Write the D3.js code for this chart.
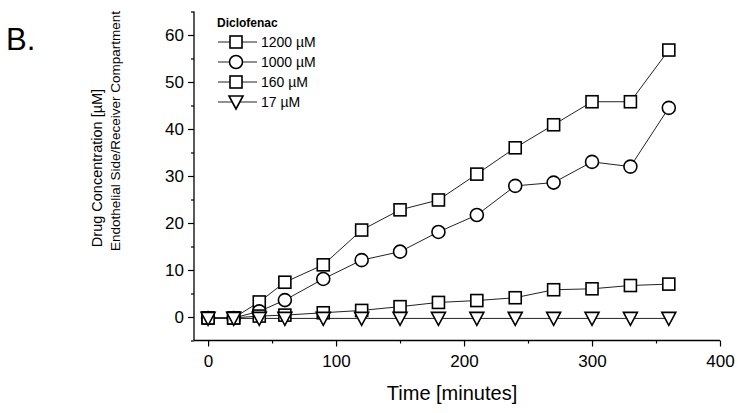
<!DOCTYPE html>
<html><head><meta charset="utf-8">
<script src="https://cdn.jsdelivr.net/npm/d3@7"></script>
<style>body{margin:0;background:#fff}svg{display:block}text{font-family:"Liberation Sans",Arial,sans-serif;fill:#000}</style>
</head><body><svg id="c" width="739" height="413"></svg>
<script>
const time = [0,20,40,60,90,120,150,180,210,240,270,300,330,360];
const c1200 = [-0.2,-0.2,3.2,7.4,11.1,18.5,22.8,24.9,30.4,36.0,40.9,45.8,45.8,56.8];
const c1000 = [-0.2,-0.2,1.2,3.6,8.1,12.1,13.9,18.1,21.7,27.9,28.6,33.0,32.0,44.5];
const c160 = [-0.2,-0.2,0.2,0.4,0.9,1.4,2.2,3.1,3.5,4.1,5.8,6.0,6.7,7.0];
const c17 = [-0.3,-0.3,-0.3,-0.3,-0.3,-0.3,-0.3,-0.3,-0.3,-0.3,-0.3,-0.3,-0.3,-0.3];
const seriesNames = ["1200 µM","1000 µM","160 µM","17 µM"];
const seriesShapes = ["square","circle","square","triangle"];
const xTicks = [0,100,200,300,400];
const yTicks = [0,10,20,30,40,50,60];
const legendTitle = "Diclofenac";

const series = [c1200,c1000,c160,c17].map((v,i)=>({name:seriesNames[i],shape:seriesShapes[i],pts:time.map((t,j)=>[t,v[j]])}));

const svg = d3.select("#c");
const x = d3.scaleLinear().domain([-11,400]).range([194,720]);
const y = d3.scaleLinear().domain([-5,65]).range([340.5,11.5]);

// axes
const xAxis = d3.axisBottom(x).tickValues(xTicks).tickSize(6).tickPadding(8).tickFormat(d3.format("d"));
const gx = svg.append("g").attr("transform",`translate(0,${y(-5)})`).call(xAxis);
gx.select(".domain").attr("d",`M${x(-11)},0H${x(400)}`);
gx.selectAll("text").style("font-size","17px");
const gxm = svg.append("g").attr("transform",`translate(0,${y(-5)})`).call(d3.axisBottom(x).tickValues([50,150,250,350]).tickSize(3).tickFormat(""));
gxm.select(".domain").remove();

const yAxis = d3.axisLeft(y).tickValues(yTicks).tickSize(6).tickPadding(4).tickFormat(d3.format("d"));
const gy = svg.append("g").attr("transform",`translate(${x(-11)},0)`).call(yAxis);
gy.select(".domain").attr("d",`M0,${y(65)}V${y(-5)}`);
gy.selectAll("text").style("font-size","17px");
const gym = svg.append("g").attr("transform",`translate(${x(-11)},0)`).call(d3.axisLeft(y).tickValues([-5,5,15,25,35,45,55,65]).tickSize(3).tickFormat(""));
gym.select(".domain").remove();
svg.selectAll(".domain").attr("stroke-width",1.3);
svg.selectAll(".tick line").attr("stroke-width",1.2);

// lines
const line = d3.line().x(d=>x(d[0])).y(d=>y(d[1]));
svg.append("g").selectAll("path").data(series).join("path")
  .attr("d",d=>line(d.pts)).attr("fill","none").attr("stroke","#222").attr("stroke-width",1);

function drawMarker(g, shape, cx, cy){
  if(shape==="square") g.append("rect").attr("x",cx-6).attr("y",cy-6).attr("width",12).attr("height",12);
  else if(shape==="circle") g.append("circle").attr("cx",cx).attr("cy",cy).attr("r",6.5);
  else g.append("path").attr("d",`M${cx-7},${cy-6}L${cx+7},${cy-6}L${cx},${cy+7}Z`);
}
const mg = svg.append("g").attr("fill","#fff").attr("stroke","#000").attr("stroke-width",1.6);
series.forEach(s=>s.pts.forEach(p=>drawMarker(mg,s.shape,x(p[0]),y(p[1]))));

// legend
const lg = svg.append("g");
lg.append("text").attr("x",217).attr("y",27).style("font-size","12px").style("font-weight","bold").text(legendTitle);
series.forEach((s,i)=>{
  const cy = 42+i*20;
  lg.append("line").attr("x1",218).attr("x2",257).attr("y1",cy).attr("y2",cy).attr("stroke","#222").attr("stroke-width",1);
  const g = lg.append("g").attr("fill","#fff").attr("stroke","#000").attr("stroke-width",1.6);
  drawMarker(g,s.shape,236,cy);
  lg.append("text").attr("x",261).attr("y",cy+5).style("font-size","14px").text(s.name);
});

// titles
svg.append("text").attr("x",452).attr("y",400).attr("text-anchor","middle").style("font-size","20px").text("Time [minutes]");
svg.append("text").attr("transform","translate(102,168) rotate(-90)").attr("text-anchor","middle").style("font-size","14.5px").text("Drug Concentration [µM]");
svg.append("text").attr("transform","translate(120,131) rotate(-90)").attr("text-anchor","middle").style("font-size","13.5px").text("Endothelial Side/Receiver Compartment");
svg.append("text").attr("x",6).attr("y",50).style("font-size","31px").text("B.");
</script></body></html>
